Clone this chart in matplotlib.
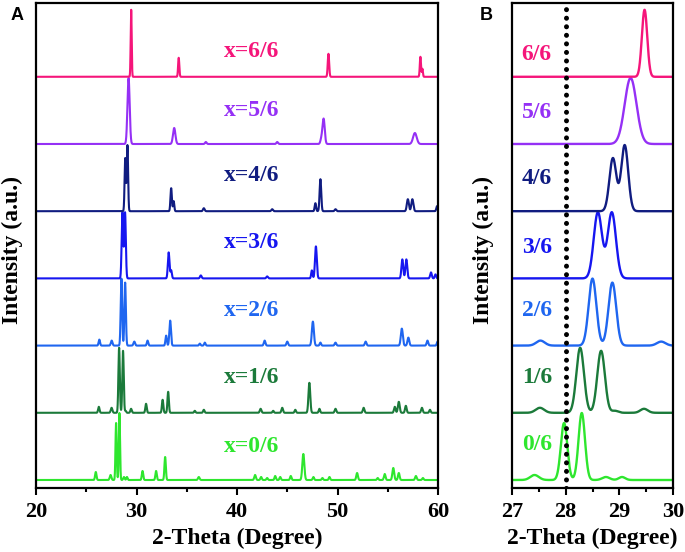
import numpy as np
import matplotlib
matplotlib.use("Agg")
import matplotlib.pyplot as plt

plt.rcParams['font.family'] = ['Liberation Serif', 'DejaVu Serif']
plt.rcParams['font.weight'] = 'bold'

# ---- data: peak position (deg), height (a.u.), width (sigma, deg)
samples = ['0/6', '1/6', '2/6', '3/6', '4/6', '5/6', '6/6']

pos_0 = [25.95, 27.42, 27.97, 28.30, 28.75, 29.05, 30.6, 31.95, 32.85, 36.2, 41.8, 42.4,
         43.0, 43.8, 44.3, 45.35, 46.6, 47.6, 48.5, 49.2, 51.95, 54.0, 54.7, 55.55, 56.1,
         57.8, 58.5]
amp_0 = [8, 5, 57, 67, 3, 3, 9, 9, 23, 3, 5, 3, 2, 4, 3, 4, 26, 3, 2, 3, 7, 2, 6, 12, 7, 4, 2]
wid_0 = [0.07, 0.08, 0.06, 0.06, 0.07, 0.06, 0.07, 0.07, 0.07, 0.08, 0.08, 0.07, 0.07, 0.07,
         0.07, 0.07, 0.10, 0.07, 0.07, 0.07, 0.08, 0.07, 0.08, 0.09, 0.08, 0.08, 0.07]

pos_1 = [26.25, 27.52, 28.27, 28.66, 28.92, 29.46, 30.95, 32.6, 33.15, 35.8, 36.7, 42.35,
         43.6, 44.5, 45.8, 47.2, 48.2, 49.8, 52.6, 55.7, 56.1, 56.8, 58.4, 59.2]
amp_1 = [6, 5, 65, 62, 2, 4, 9, 13, 21, 2, 3, 4, 2, 5, 3, 30, 4, 4, 5, 6, 11, 7, 5, 3]
wid_1 = [0.07, 0.08, 0.071, 0.071, 0.06, 0.07, 0.07, 0.07, 0.07, 0.07, 0.07, 0.08, 0.07,
         0.08, 0.07, 0.09, 0.07, 0.08, 0.08, 0.08, 0.09, 0.08, 0.08, 0.07]

pos_2 = [26.3, 27.53, 28.50, 28.87, 29.78, 31.1, 32.95, 33.35, 36.3, 36.8, 42.75, 45.0,
         47.55, 48.3, 49.8, 52.8, 56.4, 57.05, 58.95, 59.95]
amp_2 = [6, 5, 67, 63, 4, 5, 10, 25, 2, 3, 5, 4, 24, 3, 3, 4, 17, 8, 5, 4]
wid_2 = [0.07, 0.08, 0.072, 0.072, 0.08, 0.07, 0.07, 0.08, 0.07, 0.07, 0.08, 0.08,
         0.10, 0.07, 0.08, 0.08, 0.10, 0.09, 0.08, 0.07]

pos_3 = [28.60, 28.86, 33.2, 33.45, 36.4, 43.0, 47.45, 47.85, 56.45, 56.85, 59.3, 59.75]
amp_3 = [66, 66, 26, 8, 3, 2, 8, 32, 19, 19, 6, 4]
wid_3 = [0.077, 0.077, 0.08, 0.07, 0.08, 0.08, 0.07, 0.09, 0.09, 0.09, 0.08, 0.07]

pos_4 = [28.88, 29.10, 33.45, 33.7, 36.7, 43.5, 47.8, 48.3, 49.8, 57.0, 57.45, 59.9]
amp_4 = [53, 66, 23, 10, 3, 2, 8, 32, 2, 12, 12, 5]
wid_4 = [0.065, 0.065, 0.07, 0.06, 0.08, 0.08, 0.07, 0.08, 0.08, 0.10, 0.10, 0.07]

pos_5 = [29.21, 33.75, 36.9, 44.0, 48.4, 48.62, 57.7]
amp_5 = [66, 16, 2, 2, 5, 25, 11]
wid_5 = [0.11, 0.12, 0.08, 0.08, 0.10, 0.11, 0.18]

pos_6 = [29.47, 34.2, 49.1, 58.25, 58.45]
amp_6 = [67, 19, 23, 20, 8]
wid_6 = [0.05, 0.06, 0.07, 0.06, 0.05]

peaks = [(pos_0, amp_0, wid_0), (pos_1, amp_1, wid_1), (pos_2, amp_2, wid_2),
         (pos_3, amp_3, wid_3), (pos_4, amp_4, wid_4), (pos_5, amp_5, wid_5),
         (pos_6, amp_6, wid_6)]

# ---- style
colors = ['#2EE62E', '#1B7A3A', '#1F66F0', '#1616F0', '#101C80', '#9530F5', '#F5157A']
step = 67.2
base0 = 8
lift_a = [33, 35, 35, 36, 36, 34, 25]
lift_b = [35, 35, 35, 31, 33, 32, 22]


def pattern(x, pos, amp, wid):
    y = np.zeros_like(x)
    for p, a, w in zip(pos, amp, wid):
        y += a * np.exp(-(x - p) ** 2 / (2 * w ** 2))
    return y


fig = plt.figure(figsize=(6.85, 5.52), dpi=100)
axA = fig.add_axes([36 / 685, 1 - 488 / 552, 402 / 685, 485 / 552])
axB = fig.add_axes([512 / 685, 1 - 488 / 552, 161 / 685, 485 / 552])

xa = np.linspace(20, 60, 8001)
xb = np.linspace(27, 30, 1501)

for i, (pos, amp, wid) in enumerate(peaks):
    off = base0 + step * i
    axA.plot(xa, off + pattern(xa, pos, amp, wid), color=colors[i], lw=1.5)
    axB.plot(xb, off + pattern(xb, pos, amp, wid), color=colors[i], lw=1.7)
    axA.text(41.5, off + lift_a[i], 'x=' + samples[i], color=colors[i],
             fontsize=17, fontweight='bold', ha='center', va='center')
    axB.text(27.18, off + lift_b[i], samples[i], color=colors[i],
             fontsize=17, fontweight='bold', ha='left', va='center')

axB.plot([28, 28], [0, 485], color='black', lw=3.6,
         linestyle=(0, (0.01, 1.7)), dash_capstyle='round')

for ax, lo, hi, major, minor in [(axA, 20, 60, np.arange(20, 61, 10), np.arange(25, 60, 10)),
                                 (axB, 27, 30, np.arange(27, 31, 1), np.arange(27.5, 30, 1))]:
    ax.set_xlim(lo, hi)
    ax.set_ylim(0, 485)
    ax.set_xticks(major)
    ax.set_xticks(minor, minor=True)
    ax.set_yticks([])
    ax.tick_params(axis='x', which='major', direction='out', length=5, width=1.5,
                   labelsize=16, pad=5)
    ax.tick_params(axis='x', which='minor', direction='out', length=3, width=1.5)
    for s in ax.spines.values():
        s.set_linewidth(1.6)
    ax.set_xlabel('2-Theta (Degree)', fontsize=17, fontweight='bold', labelpad=4)
    ax.set_ylabel('Intensity (a.u.)', fontsize=17, fontweight='bold')

axA.yaxis.set_label_coords(-0.033, 0.49)
axB.yaxis.set_label_coords(-0.112, 0.49)

fig.text(17 / 685, 1 - 16 / 552, 'A', family='Liberation Sans', fontsize=13,
         fontweight='bold', ha='center', va='center')
fig.text(486 / 685, 1 - 16 / 552, 'B', family='Liberation Sans', fontsize=13,
         fontweight='bold', ha='center', va='center')

fig.savefig('out.png', dpi=100)
